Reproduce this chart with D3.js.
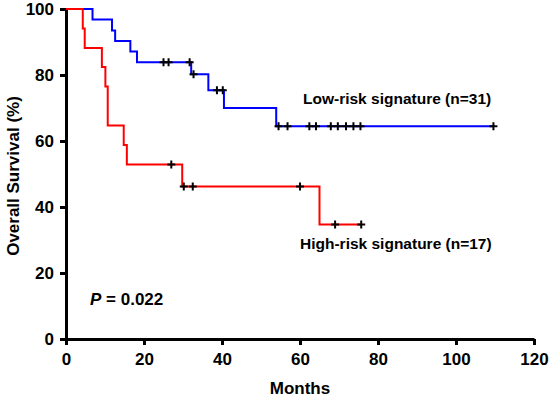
<!DOCTYPE html>
<html>
<head>
<meta charset="utf-8">
<script src="https://cdn.jsdelivr.net/npm/d3@7"></script>
<style>
  body { margin: 0; background: #fff; }
  text { font-family: "Liberation Sans", Arial, sans-serif; font-weight: bold; }
</style>
</head>
<body>
<svg id="km" width="550" height="399"></svg>
<script>
// Low-risk group: step times (months) and survival (%) after each step
var lowTimes = [0, 6.8, 11.8, 12.6, 16.5, 18.2, 32.1, 36.5, 40.5, 53.9, 109.6];
var lowSurv = [100, 96.8, 93.5, 90.3, 87.1, 83.9, 80.2, 75.4, 70.0, 64.5, 64.5];
var lowCensor = [25, 26.3, 31.7, 32.7, 38.7, 40.2, 54.5, 56.8, 62.4, 64.1, 67.9, 69.7, 71.8, 73.7, 75.5, 109.6];

// High-risk group
var highTimes = [0, 4.3, 4.8, 9.2, 10.1, 10.7, 14.8, 15.6, 29.8, 65.0, 75.7];
var highSurv = [100, 94.1, 88.2, 82.4, 76.5, 64.7, 58.8, 52.9, 46.2, 34.7, 34.7];
var highCensor = [27, 30.2, 32.5, 60, 69, 75.7];

var xTicks = [0, 20, 40, 60, 80, 100, 120];
var yTicks = [0, 20, 40, 60, 80, 100];

//Colours
var blue = "#0000FF";
var red = "#FF0000";

var svg = d3.select("#km");

var x = d3.scaleLinear().domain([0, 120]).range([66, 534]);
var y = d3.scaleLinear().domain([0, 100]).range([339, 9]);

// level of the curve at time t (last step at or before t)
function levelAt(times, surv, t) {
    var i = d3.bisectRight(times, t) - 1;
    return surv[Math.max(0, i)];
}

var line = d3.line()
    .x(function (d) { return x(d[0]); })
    .y(function (d) { return y(d[1]); })
    .curve(d3.curveStepAfter);

function drawCurve(times, surv, censor, colour) {
    var pts = times.map(function (t, i) { return [t, surv[i]]; });
    svg.append("path")
        .attr("d", line(pts))
        .attr("fill", "none")
        .attr("stroke", colour)
        .attr("stroke-width", 2);

    var g = svg.append("g");
    censor.forEach(function (t) {
        var cx = x(t), cy = y(levelAt(times, surv, t));
        g.append("path")
            .attr("d", "M" + (cx - 4) + "," + cy + "H" + (cx + 4) + "M" + cx + "," + (cy - 4) + "V" + (cy + 4))
            .attr("stroke", "#000")
            .attr("stroke-width", 2);
    });
}

// Axes
var xAxis = d3.axisBottom(x).tickValues(xTicks).tickSize(6).tickSizeOuter(0).tickPadding(8);
var yAxis = d3.axisLeft(y).tickValues(yTicks).tickSize(6).tickSizeOuter(0).tickPadding(6);

var gx = svg.append("g")
    .attr("transform", "translate(0," + y(0) + ")")
    .call(xAxis);
var gy = svg.append("g")
    .attr("transform", "translate(" + x(0) + ",0)")
    .call(yAxis);

[gx, gy].forEach(function (g) {
    g.select(".domain").attr("stroke", "#000").attr("stroke-width", 3);
    g.selectAll(".tick line").attr("stroke", "#000").attr("stroke-width", 3);
    g.selectAll(".tick text")
        .attr("fill", "#000")
        .style("font-size", "17px")
        .style("font-family", "'Liberation Sans', Arial, sans-serif")
        .style("font-weight", "bold");
});

drawCurve(lowTimes, lowSurv, lowCensor, blue);
drawCurve(highTimes, highSurv, highCensor, red);

// Axis labels
svg.append("text")
    .attr("x", 300)
    .attr("y", 394)
    .attr("text-anchor", "middle")
    .style("font-size", "17px")
    .text("Months");

svg.append("text")
    .attr("transform", "translate(19,176) rotate(-90)")
    .attr("text-anchor", "middle")
    .style("font-size", "17px")
    .text("Overall Survival (%)");

// Annotations
svg.append("text")
    .attr("x", 303)
    .attr("y", 104)
    .style("font-size", "15.5px")
    .text("Low-risk signature (n=31)");

svg.append("text")
    .attr("x", 300)
    .attr("y", 249)
    .style("font-size", "15.5px")
    .text("High-risk signature (n=17)");

var p = svg.append("text")
    .attr("x", 90)
    .attr("y", 305)
    .style("font-size", "17px");
p.append("tspan").style("font-style", "italic").text("P");
p.append("tspan").text(" = 0.022");
</script>
</body>
</html>
